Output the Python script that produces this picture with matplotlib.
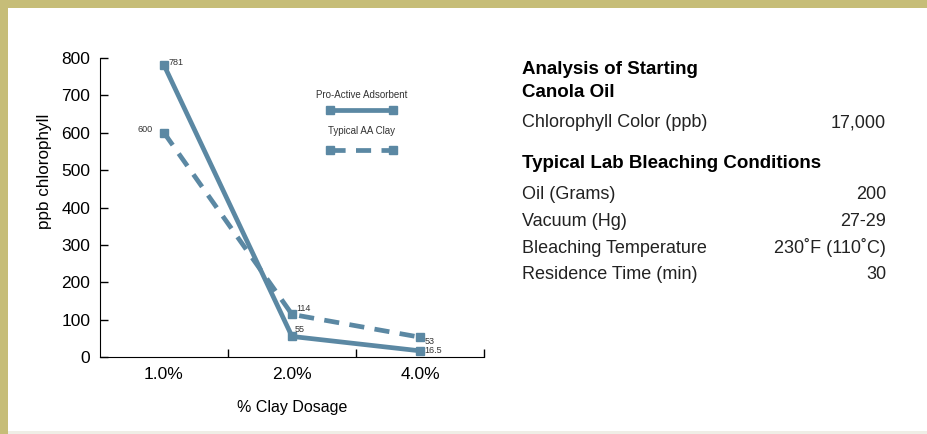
"""Chlorophyll removal vs clay dosage, with bleaching-conditions panel."""
import matplotlib
matplotlib.use("Agg")
import matplotlib.pyplot as plt
from matplotlib.patches import Rectangle

# ── Data ──────────────────────────────────────────────────────────────────────

DOSAGES = ["1.0%", "2.0%", "4.0%"]
PRO_ACTIVE = [781, 55, 16.5]
TYPICAL_AA = [600, 114, 53]
PRO_LABELS = ["781", "55", "16.5"]
TYPICAL_LABELS = ["600", "114", "53"]

START_ROWS = [("Chlorophyll Color (ppb)", "17,000")]
COND_ROWS = [
    ("Oil (Grams)", "200"),
    ("Vacuum (Hg)", "27-29"),
    ("Bleaching Temperature", "230\u02daF (110\u02daC)"),
    ("Residence Time (min)", "30"),
]

# ── Style ─────────────────────────────────────────────────────────────────────

BLUE = "#5b88a3"
OLIVE = "#c6bd78"
W, H = 928, 434
plt.rcParams["font.family"] = ["Liberation Sans", "DejaVu Sans"]

fig = plt.figure(figsize=(W / 100, H / 100), dpi=100)

# page frame: olive top/left bars, pale strip at the bottom
fig.add_artist(Rectangle((0, 1 - 8 / H), 1, 8 / H, transform=fig.transFigure,
                         color=OLIVE, lw=0))
fig.add_artist(Rectangle((0, 0), 8 / W, 1, transform=fig.transFigure,
                         color=OLIVE, lw=0))
fig.add_artist(Rectangle((8 / W, 0), 1, 3 / H, transform=fig.transFigure,
                         color="#efeee6", lw=0))

ax = fig.add_axes([100 / W, 77 / H, 384 / W, 299 / H])
x = range(len(DOSAGES))

ax.plot(x, PRO_ACTIVE, "-s", color=BLUE, lw=3.4, ms=5.5)
ax.plot(x, TYPICAL_AA, "--s", color=BLUE, lw=3.4, ms=5.5, dashes=(3.2, 2.2))

ann = dict(fontsize=6.5, color="#333333")
ax.annotate(PRO_LABELS[0], (0, PRO_ACTIVE[0]), xytext=(3, 2),
            textcoords="offset points", ha="left", va="center", **ann)
ax.annotate(PRO_LABELS[1], (1, PRO_ACTIVE[1]), xytext=(2, 5),
            textcoords="offset points", ha="left", va="center", **ann)
ax.annotate(PRO_LABELS[2], (2, PRO_ACTIVE[2]), xytext=(3, 0),
            textcoords="offset points", ha="left", va="center", **ann)
ax.annotate(TYPICAL_LABELS[0], (0, TYPICAL_AA[0]), xytext=(-8, 2),
            textcoords="offset points", ha="right", va="center", **ann)
ax.annotate(TYPICAL_LABELS[1], (1, TYPICAL_AA[1]), xytext=(3, 4),
            textcoords="offset points", ha="left", va="center", **ann)
ax.annotate(TYPICAL_LABELS[2], (2, TYPICAL_AA[2]), xytext=(3, -3),
            textcoords="offset points", ha="left", va="center", **ann)

# hand-placed legend inside the plot area
ax.text(0.682, 0.876, "Pro-Active Adsorbent", transform=ax.transAxes,
        ha="center", va="center", fontsize=7, color="#333333")
ax.plot([0.599, 0.763], [0.826, 0.826], "-s", transform=ax.transAxes,
        color=BLUE, lw=3.4, ms=5.5, clip_on=False)
ax.text(0.682, 0.756, "Typical AA Clay", transform=ax.transAxes,
        ha="center", va="center", fontsize=7, color="#333333")
ax.plot([0.599, 0.763], [0.692, 0.692], "--s", transform=ax.transAxes,
        color=BLUE, lw=3.4, ms=5.5, dashes=(3.2, 2.2), clip_on=False)

ax.set_xlim(-0.5, 2.5)
ax.set_ylim(0, 800)
ax.set_yticks(range(0, 801, 100))
ax.set_xticks([0.5, 1.5, 2.5])
ax.set_xticklabels([])
ax.set_xticks(list(x), DOSAGES, minor=True)
ax.tick_params(axis="x", which="major", direction="in", length=6, width=1)
ax.tick_params(axis="x", which="minor", length=0, pad=7, labelsize=12.5)
ax.tick_params(axis="y", direction="in", length=6, width=1, pad=7, labelsize=12.5)
for s in ("top", "right"):
    ax.spines[s].set_visible(False)
ax.set_ylabel("ppb chlorophyll", fontsize=12.3)
ax.yaxis.set_label_coords(-0.125, 0.622)
ax.set_xlabel("% Clay Dosage", fontsize=11.5, labelpad=13)

# ── Right-hand info panel ─────────────────────────────────────────────────────

XL, XR = 522 / W, 886 / W
REG, BOLD = 13, 13.5
TXT = "#222222"


def fy(py):
    return 1 - py / H


fig.text(XL, fy(74), "Analysis of Starting", fontsize=BOLD, weight="bold",
         va="baseline")
fig.text(XL, fy(97), "Canola Oil", fontsize=BOLD, weight="bold", va="baseline")
for (label, val), py in zip(START_ROWS, [127]):
    fig.text(XL, fy(py), label, fontsize=REG, va="baseline", color=TXT)
    fig.text(XR, fy(py), val, fontsize=REG, va="baseline", ha="right", color=TXT)
fig.text(XL, fy(168), "Typical Lab Bleaching Conditions", fontsize=BOLD,
         weight="bold", va="baseline")
for (label, val), py in zip(COND_ROWS, [199, 226, 253, 279]):
    fig.text(XL, fy(py), label, fontsize=REG, va="baseline", color=TXT)
    fig.text(XR, fy(py), val, fontsize=REG, va="baseline", ha="right", color=TXT)

fig.savefig("out.png", dpi=100)
